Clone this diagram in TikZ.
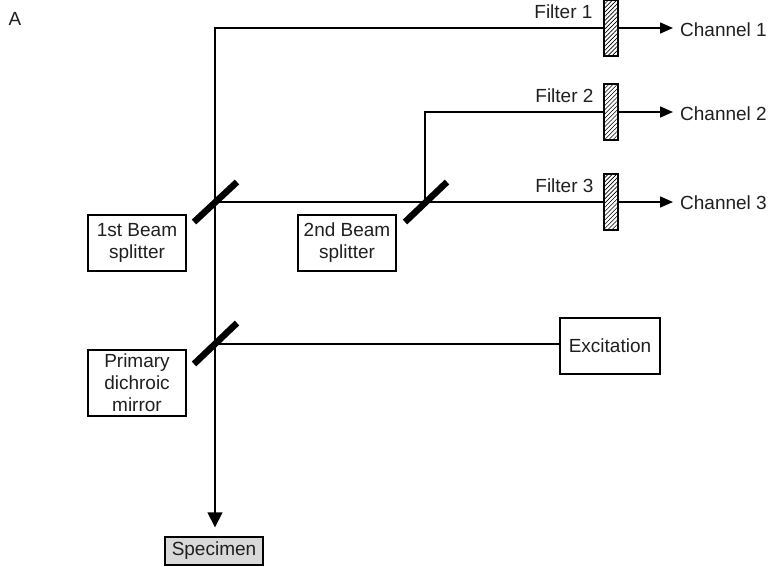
\documentclass[tikz,border=0pt]{standalone}
\usepackage{fontspec}
\setmainfont{Liberation Sans}
\usetikzlibrary{arrows.meta,patterns.meta,calc}
\begin{document}
\begin{tikzpicture}[x=1pt,y=-1pt,
  every node/.style={font=\fontsize{19}{22}\selectfont,text=black!88},
  lbox/.style={draw,line width=1.4pt,inner sep=0pt,align=center,minimum width=98pt},
  beam/.style={line width=1.6pt},
  mirror/.style={line width=6.5pt},
  filt/.style={draw,line width=1.1pt,inner sep=0pt,minimum width=14pt,minimum height=56pt,
    pattern={Lines[angle=45,distance=3pt,line width=0.6pt]}},
  tip/.style={-{Triangle[length=13pt,width=11pt]},shorten >=7pt},
  bigtip/.style={-{Triangle[length=15pt,width=15pt]}}]
\useasboundingbox (0,0) rectangle (777,566);
\node (A) at (15,19) {A};
% mirror centres
\coordinate (m1) at (215,202);
\coordinate (m2) at (425,202);
\coordinate (m3) at (215,344);
% filters
\node[filt] (f1) at (611,28) {};
\node[filt] (f2) at (611,112) {};
\node[filt] (f3) at (611,202) {};
\node[anchor=base east] (fl1) at (596,18) {Filter 1};
\node[anchor=base east] (fl2) at (597,102) {Filter 2};
\node[anchor=base east] (fl3) at (597,192) {Filter 3};
% channels
\node[anchor=west,inner sep=0pt] (c1) at (680,30) {Channel 1};
\node[anchor=west,inner sep=0pt] (c2) at (680,114) {Channel 2};
\node[anchor=west,inner sep=0pt] (c3) at (680,203) {Channel 3};
% boxes
\node[lbox,minimum height=56pt] (b1) at (137,243) {1st Beam\\splitter};
\node[lbox,minimum height=56pt] (b2) at (347,243) {2nd Beam\\splitter};
\node[lbox,minimum height=66pt] (pd) at (137,383) {Primary\\dichroic\\mirror};
\node[lbox,minimum width=100pt,minimum height=56pt] (ex) at (610,346) {Excitation};
\node[lbox,fill=black!15,minimum height=28pt] (sp) at (214,551) {Specimen};
% beams
\draw[beam] (m1) |- (f1.west);
\draw[beam,tip] (f1.east) -- (c1.west |- f1.east);
\draw[beam] (m2) |- (f2.west);
\draw[beam,tip] (f2.east) -- (c2.west |- f2.east);
\draw[beam] (m1) -- (m2) -- (f3.west);
\draw[beam,tip] (f3.east) -- (c3.west |- f3.east);
\draw[beam] (m1) -- (m3);
\draw[beam] (m3) -- (m3 -| ex.west);
\draw[beam,bigtip,shorten >=9pt] (m3) -- (m3 |- sp.north);
% mirrors
\draw[mirror] ($(m1)+(-21,20)$) -- ($(m1)+(22,-20)$);
\draw[mirror] ($(m2)+(-20,20)$) -- ($(m2)+(22,-20)$);
\draw[mirror] ($(m3)+(-21,20)$) -- ($(m3)+(22,-21)$);
\end{tikzpicture}
\end{document}
